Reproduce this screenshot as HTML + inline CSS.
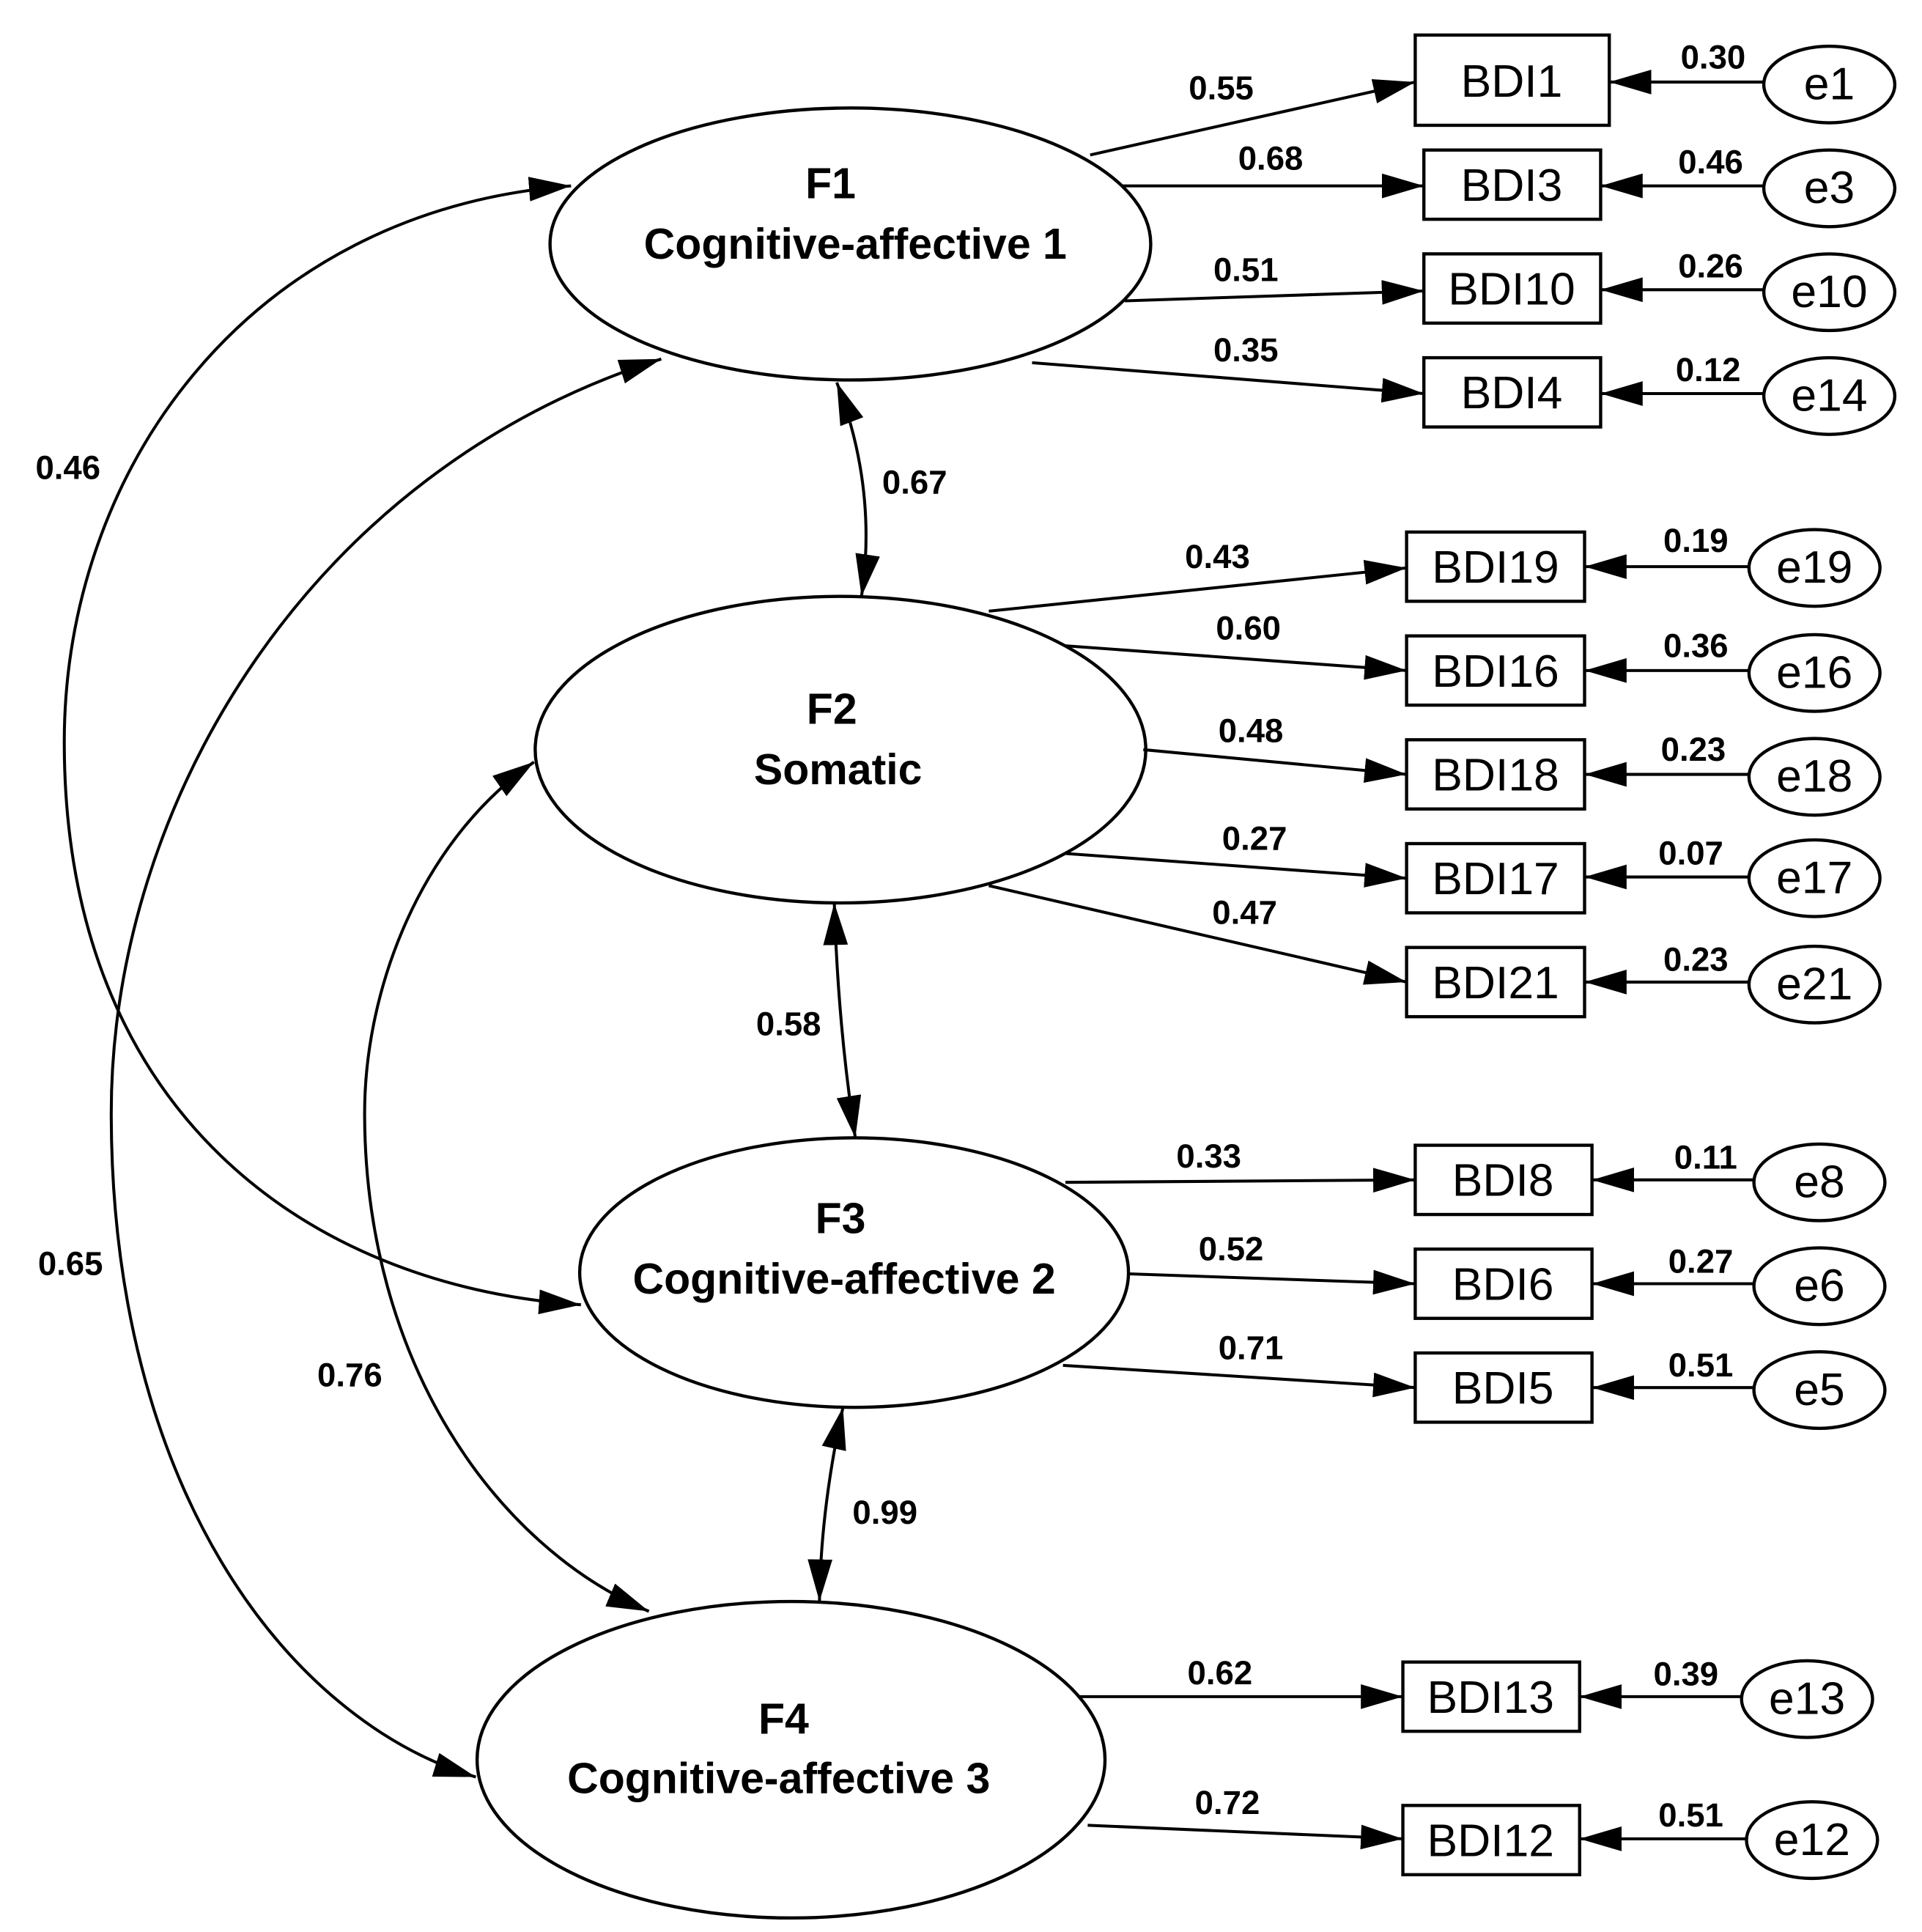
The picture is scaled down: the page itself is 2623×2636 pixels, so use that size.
<!DOCTYPE html>
<html><head><meta charset="utf-8"><style>
html,body{margin:0;padding:0;background:#fff;}
svg{display:block;}
.n{font-family:"Liberation Sans",sans-serif;font-weight:bold;font-size:27px;fill:#000;}
.f{font-family:"Liberation Sans",sans-serif;font-weight:bold;font-size:35px;fill:#000;}
.b{font-family:"Liberation Sans",sans-serif;font-size:37px;fill:#000;}
.e{font-family:"Liberation Sans",sans-serif;font-size:37px;fill:#000;}
</style></head><body>
<svg width="2623" height="2636" viewBox="0 0 1555 1562" xmlns="http://www.w3.org/2000/svg">
<defs>
<marker id="a" viewBox="0 0 10 10" refX="10" refY="5" markerWidth="12" markerHeight="9" markerUnits="userSpaceOnUse" orient="auto-start-reverse" preserveAspectRatio="none">
<path d="M0,0 L10,5 L0,10 z" fill="#000"/></marker>
<marker id="m" viewBox="0 0 10 10" refX="10" refY="5" markerWidth="34" markerHeight="20" markerUnits="userSpaceOnUse" orient="auto-start-reverse" preserveAspectRatio="none">
<path d="M0,0 L10,5 L0,10 z" fill="#000"/></marker>
</defs>
<g fill="none" stroke="#000" stroke-width="2.6">
<!-- latent ellipses -->
<ellipse cx="688" cy="197" rx="243" ry="110"/>
<ellipse cx="680" cy="606" rx="247" ry="124"/>
<ellipse cx="691" cy="1029" rx="222" ry="109"/>
<ellipse cx="640" cy="1423" rx="254" ry="128"/>
<!-- boxes -->
<rect x="1145" y="28" width="157" height="73"/>
<rect x="1152" y="121" width="143" height="56"/>
<rect x="1152" y="205" width="143" height="56"/>
<rect x="1152" y="289" width="143" height="56"/>
<rect x="1138" y="430" width="144" height="56"/>
<rect x="1138" y="514" width="144" height="56"/>
<rect x="1138" y="598" width="144" height="56"/>
<rect x="1138" y="682" width="144" height="56"/>
<rect x="1138" y="766" width="144" height="56"/>
<rect x="1145" y="926" width="143" height="56"/>
<rect x="1145" y="1010" width="143" height="56"/>
<rect x="1145" y="1094" width="143" height="56"/>
<rect x="1135" y="1344" width="143" height="56"/>
<rect x="1135" y="1460" width="143" height="56"/>
<!-- error ellipses -->
<ellipse cx="1480" cy="68" rx="53" ry="31"/>
<ellipse cx="1480" cy="152" rx="53" ry="31"/>
<ellipse cx="1480" cy="236" rx="53" ry="31"/>
<ellipse cx="1480" cy="320" rx="53" ry="31"/>
<ellipse cx="1468" cy="459" rx="53" ry="31"/>
<ellipse cx="1468" cy="544" rx="53" ry="31"/>
<ellipse cx="1468" cy="628" rx="53" ry="31"/>
<ellipse cx="1468" cy="710" rx="53" ry="31"/>
<ellipse cx="1468" cy="796" rx="53" ry="31"/>
<ellipse cx="1472" cy="956" rx="53" ry="31"/>
<ellipse cx="1472" cy="1040" rx="53" ry="31"/>
<ellipse cx="1472" cy="1124" rx="53" ry="31"/>
<ellipse cx="1462" cy="1374" rx="53" ry="31"/>
<ellipse cx="1466" cy="1488" rx="53" ry="31"/>
</g>
<g stroke="#000" stroke-width="2.4" fill="none" marker-end="url(#m)">
<!-- error arrows -->
<line x1="1427" y1="66" x2="1302" y2="66"/>
<line x1="1427" y1="150" x2="1295" y2="150"/>
<line x1="1427" y1="234" x2="1295" y2="234"/>
<line x1="1427" y1="318" x2="1295" y2="318"/>
<line x1="1415" y1="458" x2="1282" y2="458"/>
<line x1="1415" y1="542" x2="1282" y2="542"/>
<line x1="1415" y1="626" x2="1282" y2="626"/>
<line x1="1415" y1="709" x2="1282" y2="709"/>
<line x1="1415" y1="794" x2="1282" y2="794"/>
<line x1="1419" y1="954" x2="1288" y2="954"/>
<line x1="1419" y1="1038" x2="1288" y2="1038"/>
<line x1="1419" y1="1122" x2="1288" y2="1122"/>
<line x1="1409" y1="1372" x2="1278" y2="1372"/>
<line x1="1413" y1="1487" x2="1278" y2="1487"/>
<!-- loadings -->
<line x1="882" y1="125" x2="1145" y2="66"/>
<line x1="908" y1="150" x2="1152" y2="150"/>
<line x1="910" y1="243" x2="1152" y2="235"/>
<line x1="835" y1="293" x2="1152" y2="318"/>
<line x1="800" y1="494" x2="1138" y2="459"/>
<line x1="862" y1="522" x2="1138" y2="542"/>
<line x1="925" y1="606" x2="1138" y2="626"/>
<line x1="862" y1="690" x2="1138" y2="710"/>
<line x1="800" y1="716" x2="1138" y2="794"/>
<line x1="862" y1="956" x2="1145" y2="954"/>
<line x1="913" y1="1030" x2="1145" y2="1038"/>
<line x1="860" y1="1104" x2="1145" y2="1122"/>
<line x1="872" y1="1372" x2="1135" y2="1372"/>
<line x1="880" y1="1476" x2="1135" y2="1487"/>
</g>
<g stroke="#000" stroke-width="2.4" fill="none" marker-start="url(#m)" marker-end="url(#m)">
<path d="M677,309 Q710,395 697,482"/>
<path d="M675,730 Q678,830 692,920"/>
<path d="M682,1138 Q664,1220 663,1295"/>
<path d="M462,150 C200,170 52,380 52,600 C52,900 250,1040 470,1055"/>
<path d="M535,290 C250,380 90,650 90,900 C90,1200 230,1390 385,1437"/>
<path d="M432,616 C340,680 295,800 295,900 C295,1100 400,1250 525,1303"/>
</g>
<!-- latent labels -->
<text class="f" x="672" y="160" text-anchor="middle">F1</text>
<text class="f" x="692" y="209" text-anchor="middle">Cognitive-affective 1</text>
<text class="f" x="673" y="585" text-anchor="middle">F2</text>
<text class="f" x="678" y="634" text-anchor="middle">Somatic</text>
<text class="f" x="680" y="997" text-anchor="middle">F3</text>
<text class="f" x="683" y="1046" text-anchor="middle">Cognitive-affective 2</text>
<text class="f" x="634" y="1402" text-anchor="middle">F4</text>
<text class="f" x="630" y="1450" text-anchor="middle">Cognitive-affective 3</text>
<!-- box labels -->
<g class="b" text-anchor="middle">
<text x="1223" y="78">BDI1</text>
<text x="1223" y="162">BDI3</text>
<text x="1223" y="246">BDI10</text>
<text x="1223" y="330">BDI4</text>
<text x="1210" y="471">BDI19</text>
<text x="1210" y="555">BDI16</text>
<text x="1210" y="639">BDI18</text>
<text x="1210" y="723">BDI17</text>
<text x="1210" y="807">BDI21</text>
<text x="1216" y="967">BDI8</text>
<text x="1216" y="1051">BDI6</text>
<text x="1216" y="1135">BDI5</text>
<text x="1206" y="1385">BDI13</text>
<text x="1206" y="1501">BDI12</text>
</g>
<g class="e" text-anchor="middle">
<text x="1480" y="80">e1</text>
<text x="1480" y="164">e3</text>
<text x="1480" y="248">e10</text>
<text x="1480" y="332">e14</text>
<text x="1468" y="471">e19</text>
<text x="1468" y="556">e16</text>
<text x="1468" y="640">e18</text>
<text x="1468" y="722">e17</text>
<text x="1468" y="808">e21</text>
<text x="1472" y="968">e8</text>
<text x="1472" y="1052">e6</text>
<text x="1472" y="1136">e5</text>
<text x="1462" y="1386">e13</text>
<text x="1466" y="1500">e12</text>
</g>
<!-- numeric labels -->
<g class="n" text-anchor="middle">
<text x="1386" y="55">0.30</text>
<text x="1384" y="140">0.46</text>
<text x="1384" y="224">0.26</text>
<text x="1382" y="308">0.12</text>
<text x="1372" y="446">0.19</text>
<text x="1372" y="531">0.36</text>
<text x="1370" y="615">0.23</text>
<text x="1368" y="699">0.07</text>
<text x="1372" y="785">0.23</text>
<text x="1380" y="945">0.11</text>
<text x="1376" y="1029">0.27</text>
<text x="1376" y="1113">0.51</text>
<text x="1364" y="1363">0.39</text>
<text x="1368" y="1477">0.51</text>
<text x="988" y="80">0.55</text>
<text x="1028" y="137">0.68</text>
<text x="1008" y="227">0.51</text>
<text x="1008" y="292">0.35</text>
<text x="985" y="459">0.43</text>
<text x="1010" y="517">0.60</text>
<text x="1012" y="600">0.48</text>
<text x="1015" y="687">0.27</text>
<text x="1007" y="747">0.47</text>
<text x="978" y="944">0.33</text>
<text x="996" y="1019">0.52</text>
<text x="1012" y="1099">0.71</text>
<text x="987" y="1362">0.62</text>
<text x="993" y="1467">0.72</text>
<text x="740" y="399">0.67</text>
<text x="638" y="837">0.58</text>
<text x="716" y="1232">0.99</text>
<text x="55" y="387">0.46</text>
<text x="57" y="1031">0.65</text>
<text x="283" y="1121">0.76</text>
</g>
</svg>
</body></html>
